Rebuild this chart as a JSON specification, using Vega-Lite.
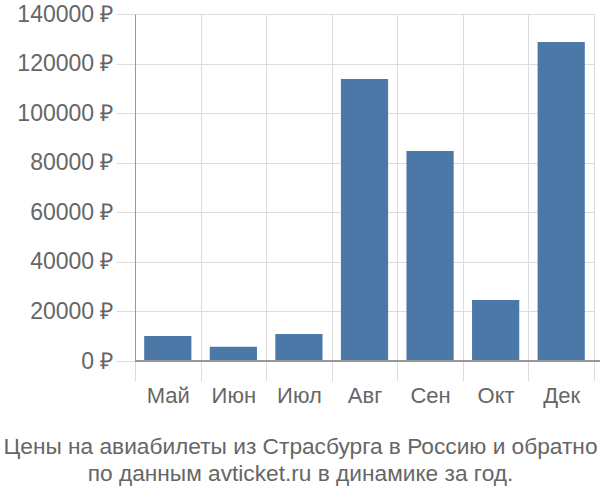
{
  "$schema": "https://vega.github.io/schema/vega-lite/v6.json",
  "autosize": "none",
  "width": 465,
  "height": 347,
  "padding": {"left": 135, "top": 14, "right": 0, "bottom": 139},
  "background": "white",
  "config": {"view": {"stroke": null}, "font": "Liberation Sans"},
  "title": {
    "text": ["Цены на авиабилеты из Страсбурга в Россию и обратно", "по данным avticket.ru в динамике за год."],
    "orient": "bottom",
    "anchor": "middle",
    "dx": -67,
    "offset": 30,
    "fontSize": 22.7,
    "fontWeight": "normal",
    "color": "#666666",
    "lineHeight": 27,
    "font": "Liberation Sans"
  },
  "data": {
    "values": [
      {"month": "Май", "price": 10100},
      {"month": "Июн", "price": 5700},
      {"month": "Июл", "price": 10900},
      {"month": "Авг", "price": 113800},
      {"month": "Сен", "price": 84700},
      {"month": "Окт", "price": 24600},
      {"month": "Дек", "price": 128700}
    ]
  },
  "layer": [
    {
      "mark": {"type": "bar", "color": "#4c78a8", "width": {"band": 0.72}},
      "encoding": {
        "x": {
          "field": "month", "type": "nominal", "sort": null,
          "scale": {"paddingInner": 0, "paddingOuter": 0, "range": [0, 459]},
          "axis": {
            "title": null, "tickBand": "extent", "grid": true, "gridColor": "#dddddd",
            "domain": false, "tickColor": "#dddddd", "tickSize": 20,
            "labelFontSize": 22, "labelColor": "#666666", "labelPadding": 4, "labelAngle": 0
          }
        },
        "y": {
          "field": "price", "type": "quantitative",
          "scale": {"domain": [0, 140000], "nice": false},
          "axis": {
            "title": null, "values": [0, 20000, 40000, 60000, 80000, 100000, 120000, 140000],
            "labelExpr": "datum.value + ' ₽'",
            "grid": true, "gridColor": "#dddddd", "domainColor": "#999999",
            "tickColor": "#dddddd", "tickSize": 19, "labelPadding": 3,
            "labelFontSize": 23, "labelColor": "#666666"
          }
        }
      }
    },
    {
      "mark": {"type": "rule", "color": "#999999", "strokeWidth": 1.5},
      "encoding": {"y": {"datum": 0}}
    }
  ]
}
